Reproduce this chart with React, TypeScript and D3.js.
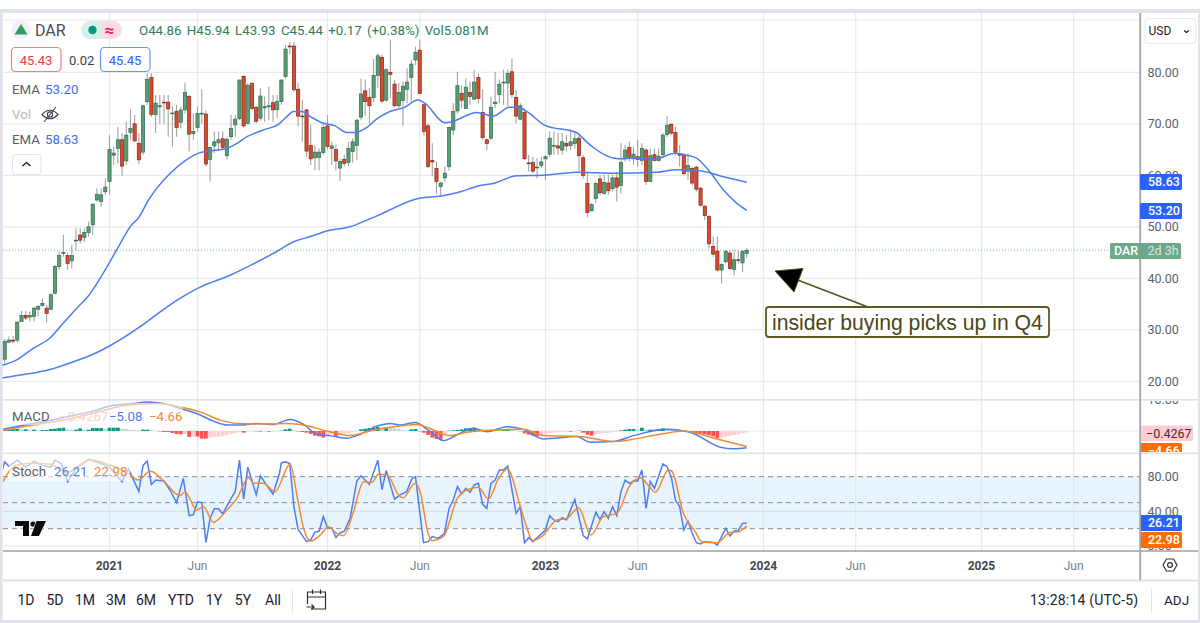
import React from "react";
import * as d3 from "d3";

// weekly candles: open, high, low, close
const ohlc: number[][] = [
[24.3,28.2,23.6,27.7],[27.6,28.7,27.4,28.0],[28.0,28.7,27.4,27.8],[28.0,31.6,27.5,31.5],[31.6,33.7,31.6,32.8],
[32.8,33.7,31.9,32.3],[32.5,33.5,31.6,32.8],[32.6,34.5,31.6,34.2],[34.0,34.8,32.6,34.5],[34.7,36.1,34.5,35.1],
[34.2,34.8,31.4,33.2],[34.0,37.1,33.9,36.8],[37.1,42.6,36.8,42.3],[42.3,45.2,41.6,44.4],[44.9,48.4,44.2,45.0],
[44.4,44.9,41.7,42.9],[43.4,46.5,41.9,44.4],[47.3,49.7,45.4,47.4],[48.4,49.7,46.8,47.4],[47.9,49.7,47.1,48.9],
[48.9,51.0,48.1,50.0],[50.4,54.5,48.4,54.4],[55.2,57.5,54.9,56.3],[54.9,57.5,53.9,56.2],[56.8,59.4,56.2,57.7],
[58.8,67.8,56.2,65.0],[63.9,65.6,62.0,64.3],[65.2,69.4,62.3,66.9],[66.9,68.2,59.9,61.8],[62.8,70.4,62.0,67.8],
[68.3,72.8,66.9,69.1],[70.0,71.7,66.3,66.7],[66.2,68.2,62.2,63.0],[64.5,73.7,64.0,73.5],[74.3,79.8,73.7,78.6],
[79.0,79.8,71.3,71.8],[71.8,75.6,68.2,74.0],[73.3,75.6,70.0,73.5],[74.2,75.6,70.0,74.1],[74.2,75.6,67.5,72.9],
[72.0,73.5,65.5,72.1],[72.4,73.7,67.5,69.3],[70.3,73.3,69.1,72.7],[72.7,78.0,72.0,76.1],[75.3,75.6,64.6,68.0],
[68.1,72.0,66.9,68.5],[69.3,73.3,68.5,72.0],[72.0,76.7,70.0,72.05],[71.9,72.6,61.7,62.2],[63.1,65.6,58.8,65.4],
[65.7,68.5,64.3,66.5],[66.3,68.5,64.9,66.9],[67.1,68.5,65.0,65.4],[63.8,67.5,63.1,67.0],[67.5,71.7,66.9,69.1],
[69.8,71.7,67.5,70.9],[71.0,78.6,70.7,78.5],[79.2,79.5,69.2,69.6],[70.1,77.9,69.8,77.5],[77.9,77.9,72.7,73.0],
[73.2,73.5,70.1,70.5],[71.1,76.9,70.6,75.4],[73.1,75.3,70.4,73.3],[73.3,77.2,70.7,73.5],[74.1,75.6,70.4,72.7],
[72.8,75.6,71.1,74.3],[74.3,78.6,73.7,78.5],[79.2,85.3,78.8,84.5],[85.1,85.9,83.5,85.0],[85.1,85.9,76.2,76.6],
[76.7,78.0,69.5,71.5],[71.5,74.7,66.5,71.4],[72.7,72.9,63.5,64.7],[65.8,69.8,62.0,63.2],[63.4,65.8,61.0,64.5],
[63.5,65.2,61.0,64.5],[64.4,70.0,64.0,69.3],[69.6,71.7,65.0,65.6],[65.2,66.5,62.0,65.7],[65.0,66.0,60.9,62.8],
[61.4,63.2,58.9,62.7],[63.1,64.0,61.7,62.3],[62.5,66.5,61.8,65.2],[64.6,67.2,62.5,66.5],[65.8,71.0,63.0,70.7],
[71.3,78.8,70.7,75.8],[76.4,78.6,71.5,74.3],[75.1,77.0,70.0,73.5],[75.1,82.6,74.3,79.4],[79.4,83.7,77.0,83.2],
[82.9,83.4,74.0,74.4],[74.6,80.8,74.3,80.5],[80.0,86.3,75.0,79.6],[77.7,78.5,73.3,73.5],[73.5,77.9,73.0,76.1],
[74.5,78.2,69.6,77.3],[76.7,80.8,74.0,78.1],[79.0,82.4,74.3,81.6],[82.4,85.0,81.4,83.9],[84.3,86.3,75.9,75.9],
[73.7,73.8,67.8,68.5],[69.6,70.1,61.4,61.7],[62.9,66.2,59.8,62.6],[61.3,62.7,56.4,58.8],[57.8,58.8,56.0,58.5],
[59.5,61.7,58.8,60.4],[61.7,69.5,60.9,69.3],[68.8,74.0,67.8,72.4],[72.5,80.1,72.0,77.4],[75.9,77.5,73.0,74.6],
[73.0,78.8,72.9,77.1],[76.1,78.2,73.7,75.3],[74.8,80.5,74.6,78.1],[79.0,79.8,74.0,74.9],[72.2,76.7,66.9,67.3],
[66.9,67.2,64.9,66.2],[67.2,75.3,66.9,73.2],[73.9,80.1,73.0,74.2],[75.7,78.6,74.0,77.7],[78.0,80.5,73.7,78.1],
[77.9,80.5,73.3,79.8],[80.1,82.7,75.0,75.7],[75.1,76.6,70.1,71.5],[70.9,74.0,70.7,73.5],[72.2,73.0,63.0,63.2],
[62.4,64.0,60.7,62.3],[62.5,63.6,60.4,60.8],[61.5,63.3,59.4,61.6],[61.9,63.6,61.4,62.6],[63.2,64.0,59.0,63.6],
[64.1,68.5,63.5,67.2],[65.8,68.5,64.0,65.8],[65.7,68.2,64.0,65.3],[64.9,68.2,64.0,66.5],[66.2,67.8,64.6,65.7],
[65.8,68.9,64.9,66.5],[66.2,68.5,65.2,67.1],[67.2,67.8,60.7,63.8],[63.4,64.0,59.4,60.0],[58.4,60.7,51.8,52.8],
[53.1,54.6,53.0,54.3],[55.5,58.8,54.6,58.4],[59.3,60.1,56.2,56.6],[56.5,60.1,56.2,58.6],[58.5,60.1,56.2,57.0],
[57.4,60.1,56.8,59.5],[59.5,60.7,54.9,57.7],[58.0,66.2,56.4,62.5],[63.2,65.9,62.7,64.9],[65.4,66.5,62.7,63.5],
[63.2,65.6,62.0,64.1],[63.6,66.9,61.7,63.1],[62.9,66.2,62.0,65.2],[64.9,65.2,58.1,58.8],[58.8,65.2,58.7,63.8],
[64.0,65.2,62.7,62.9],[62.9,65.2,62.7,63.7],[64.0,68.2,63.6,67.8],[67.9,71.5,67.5,69.7],[69.9,70.1,67.8,68.2],
[68.3,69.5,63.9,64.5],[64.2,65.9,61.7,63.9],[64.0,64.3,60.0,60.3],[60.8,64.3,59.1,61.9],[61.3,61.7,58.1,58.5],
[61.6,61.8,56.8,57.3],[57.5,57.8,53.9,54.2],[54.0,54.2,51.3,52.2],[52.0,52.3,45.8,46.7],[46.2,48.1,44.2,44.7],
[45.3,48.1,41.3,41.6],[41.6,42.9,39.0,42.7],[43.2,45.5,42.9,45.2],[44.9,45.5,41.6,41.9],[41.7,45.5,40.6,43.6],
[43.6,45.5,42.9,43.5],[43.0,45.5,41.2,45.2],[44.86,45.94,43.93,45.44],
];

// [candle index, price]
const emaFast: number[][] = [[-1.1,23],[2.5,24],[6.8,26.4],[10.8,28.4],[14,31.3],[17.2,34.2],[20,36.6],[23.5,41],[26.7,45.5],[30.3,50.4],[31.9,51.7],[34.3,55.2],[39.5,60.4],[43,62.8],[46.6,64.4],[49.8,64.8],[53,65.2],[55.4,66.2],[57.8,67.5],[61.7,68.8],[65.3,69.9],[67.3,71.4],[68.9,72.4],[70.9,72.4],[72.9,71.4],[75.7,70.2],[78.8,69.6],[81.6,68.3],[83.6,68.3],[86.4,69.3],[88.7,70.9],[91.9,72.4],[95.1,73.1],[98.6,74.6],[100.2,74],[105,70.2],[106.6,70.4],[112.6,72.2],[116.5,71.5],[120.5,73.2],[122.5,73.2],[124.5,72.4],[128.9,69.7],[136.4,68.3],[138.8,66.5],[140.4,65.4],[146.4,63.2],[151.5,63.4],[155.5,63.1],[157.1,63.6],[159.9,64.3],[162.7,63.9],[165.1,63.3],[168.2,60.7],[171.4,57.2],[174.6,54.6],[177,53.2]];
const emaSlow: number[][] = [[-1.1,20.6],[5.3,21.4],[10.8,22.3],[16.4,23.8],[20.4,25],[25.1,26.9],[32.3,30.6],[37.1,33.5],[41.8,36.1],[46.6,38.3],[53.8,40.6],[58.6,42.5],[64.9,45.2],[68.9,47.1],[72.9,48.1],[76.8,49.2],[82.4,50],[86.4,51.3],[89.6,52.4],[91.9,53.3],[98.6,55.5],[104.2,56],[107.8,56.6],[113.4,58],[116.5,58.4],[122.1,59.9],[128.5,60],[136.4,60.6],[146,60.4],[155.5,60.6],[160.3,61.1],[165.9,60.9],[171.4,59.7],[177,58.63]];

const macdHist: number[] = [
.5,.5,.5,.6,.5,.5,.4,.4,.3,.3,
.3,.6,.7,.9,1,.5,.4,.4,.8,.4,
.4,.9,.9,.9,.6,1,1,1,.7,.6,
.4,.3,.2,.4,.4,.2,.1,-.1,-.3,-.3,
-.6,-.9,-1,-.9,-1.8,-1.7,-1.7,-2.3,-2.3,-2,
-1.8,-1.7,-1.5,-1.2,-.9,-.6,-.3,-.5,-.2,-.1,
-.1,-.2,-.1,-.2,-.15,-.1,.1,.5,.7,.2,
-.1,-.3,-.5,-.9,-1.4,-1.6,-2,-1.2,-1,-1.5,
-1,-.8,-.6,-.3,-.1,.5,.7,.9,.9,1.2,
1,1.1,.9,.8,.6,.3,.2,.5,.6,-.1,
-.5,-1.2,-2,-2.4,-2.7,-1.3,.1,.2,.3,.5,
.8,.9,1,.7,.4,.2,.1,.1,.1,.4,
.5,.2,.1,-.1,-.7,-1.1,-1.4,-1.6,-1.2,-1,
-.7,-.5,-.4,-.3,-.2,-.2,-.1,.1,-.5,-1.1,
-1.4,-1,-.8,-.6,-.5,-.3,-.2,.2,.4,.6,
.6,.4,1,.4,.4,.4,.6,.8,.5,.3,
.2,.1,.05,-.1,-.3,-.6,-.8,-1,-1.3,-1.6,
-2.1,-2,-1.7,-1.5,-1.2,-1,-.7,-.43];

const macdLine: number[][] = [[-1.1,.3],[3.7,1.6],[9.2,2.8],[14.8,4.3],[21.2,6.1],[25.9,7.8],[30.7,8.3],[33.9,8.8],[37.9,8.3],[41.9,6.8],[45.8,5.3],[49.8,3],[53,1.8],[56.2,1.8],[60.1,2.3],[64.1,2],[68.1,3.5],[71.3,2],[74.5,-1],[77.6,-1.4],[81.6,-2.2],[84.4,-1.2],[88.8,1.5],[92,2.3],[94.3,1.8],[97.9,2.6],[101.5,-.2],[104.6,-2.9],[107.8,-1.2],[111.8,.8],[115,-.2],[119.8,1.3],[123.7,.5],[128.5,-2.4],[136.5,-1.7],[139.6,-3.4],[145.2,-3.2],[150,-1.4],[158,.5],[163.5,-.4],[170.7,-4.9],[173.9,-5.4],[177,-5.08]];
const macdSignal: number[][] = [[-1.1,0],[6.8,1.8],[14.8,3.5],[22.8,6],[29.1,7.8],[36.3,8.3],[41.9,7.3],[46.6,5.8],[51.4,3.3],[55.4,2.3],[62.5,2.1],[67.3,2.3],[72.1,1.6],[76.8,0],[82.4,-1.4],[88,.3],[94.3,1.5],[98.3,2],[102.3,.3],[106.2,-1.4],[110.2,-.4],[116.6,.3],[123.7,.5],[128.5,-1.4],[137.3,-1.7],[145.2,-3.2],[156.3,-1],[161.9,0],[169.9,-2.4],[177,-4.66]];

const stochK: number[][] = [[-.8,84],[0,97],[1,92],[3,99],[5,91],[7,98],[9,93],[11,91],[12,99],[13.5,95],[15,74],[17,89],[20,100],[23,95],[25,91],[28,74],[29.5,89],[32,63],[33,93],[34,98],[35,71],[36,76],[38,75],[39.5,64],[41,50],[42.6,78],[44,35],[45,36],[46,51],[47,50],[48,4],[49,32],[50,43],[51,43],[52,37],[54,55],[55,63],[56,99],[57,54],[58,91],[60,59],[61,81],[62.5,70],[64,60],[65.5,83],[66,96],[67,97],[68,95],[69,45],[70,19],[72,5],[73,7],[74,16],[75,17],[76,34],[77,21],[78,21],[79,10],[80,15],[81,17],[82.4,32],[84,75],[85,81],[87,71],[89,99],[90,65],[91,87],[93,54],[94.3,59],[95.9,62.7],[97.1,77.3],[98,80],[99.9,3.8],[101,5],[102,10.8],[103.4,8.8],[104.9,14.6],[106,43.4],[107,53],[108,68.4],[109,60],[110,66.5],[111,61.9],[112,70.4],[113,72.3],[114,48],[115,43.4],[116,72.3],[117,76],[118,87.7],[119,87.7],[120,92.3],[122,37.7],[123,45.4],[124,3.8],[125,9.6],[126,5],[129,18.4],[130,35],[131,30],[132,28],[133,32.7],[134,30],[136,53.8],[138,11.9],[139,8],[141,38.8],[142,30.7],[143,39.6],[144,31.9],[145,45.4],[146,35],[147,62.7],[148,76],[149,72.3],[150,75],[151,75],[152,87.7],[153,43.4],[154,74.2],[155,66.5],[157,94.6],[158,91.5],[159,80],[160,53],[161,45.4],[162,18.4],[163,28.8],[164,14.6],[165,3.8],[166,2.3],[167,5],[169,4.2],[170,1.1],[172,20.4],[173,11.5],[174,17.3],[175,18],[176,26.1],[177,26.21]];
const stochD: number[][] = [[-.5,73.4],[.9,85],[2.9,93.4],[6.8,95.4],[10.8,94.2],[14.8,85],[20.4,99.2],[25.1,93.4],[29.1,85],[31.9,76],[34.7,86.5],[37.9,75],[41.8,58],[43,62.7],[45.8,41.5],[47.4,45.4],[49.8,27.3],[53,41.5],[55.4,55],[58.2,78.8],[59.3,72.3],[61.7,72.3],[64.5,62.7],[68.1,94.6],[69.7,58.8],[71.3,20.4],[72.9,5.7],[75.3,12.7],[77.2,22.3],[79.2,14.6],[80.8,11.9],[83.2,39.6],[85.6,74.2],[87.6,73.4],[89.2,82.7],[91.2,81.9],[94.3,56.9],[95.1,55.7],[97.9,72.3],[99.1,62.7],[101,14.6],[101.9,6.1],[104.6,10.7],[108,55],[110.2,64.6],[113,67.7],[115.4,54.2],[117.8,78],[119.9,88.8],[122.9,47.3],[124.1,28],[126,6.1],[128.1,10.7],[131.7,30],[134.1,31.9],[136.9,44.2],[139.8,12.7],[142.8,33.8],[146,37.7],[149.2,70.4],[151.6,78.8],[153.6,69.6],[155.2,61.9],[158.3,87.7],[159.1,86.5],[161.9,37.7],[164.7,16.5],[166.3,5],[169.9,3.8],[173.1,15.8],[175,16.5],[177,22.98]];

const priceTicks = [80, 70, 60, 50, 40, 30, 20];
const timeTicks: [number, string, boolean][] = [[25,"2021",true],[46,"Jun",false],[77,"2022",true],[99,"Jun",false],[129,"2023",true],[151,"Jun",false],[181,"2024",true],[203,"Jun",false],[233,"2025",true],[255,"Jun",false]];
const ranges: [string, number][] = [["1D",26],["5D",55],["1M",85],["3M",116],["6M",146],["YTD",181],["1Y",214],["5Y",243],["All",273]];

const FONT = "Roboto, 'Noto Sans', sans-serif";
const GRID = "#e9eaee";
const SEP = "#dfe2ea";
const CHART_L = 3, CHART_R = 1140;

const x = d3.scaleLinear().domain([0, 177]).range([4.7, 746.7]);
const yP = d3.scaleLinear().domain([20, 80]).range([381.3, 72.3]);
const yM = d3.scaleLinear().domain([-10, 10]).range([464, 398]);
const yS = d3.scaleLinear().domain([0, 100]).range([546, 459.3]);

const lineOf = (y: d3.ScaleLinear<number, number>, curve: d3.CurveFactory = d3.curveLinear) =>
  d3.line<number[]>().x((d) => x(d[0])).y((d) => y(d[1])).curve(curve);

const UP = "#5c9c77", UPB = "#2f6b4b", DN = "#dc4a2d", DNB = "#7d2b1b", WICK = "#a3a3a3";
const BLUE = "#4f7cf0", ORANGE = "#f28a30", LB = "#2962ff";

function Tag({ y, w, h, fill, text, color, x0 = CHART_R }: any) {
  return (
    <g>
      <rect x={x0} y={y - h / 2} width={w} height={h} rx={1.5} fill={fill} />
      <text x={x0 + 8} y={y + 4.4} fontSize={12.5} fill={color} fontWeight={500}>{text}</text>
    </g>
  );
}

export default function App() {
  const macdColor = (v: number, i: number) => {
    const p = i > 0 ? macdHist[i - 1] : 0;
    if (v >= 0) return v >= p ? "#089981" : "#b2dfd8";
    return v <= p ? "#ff5252" : "#ffcdd2";
  };
  return (
    <svg width={1200} height={623} viewBox="0 0 1200 623" style={{ position: "fixed", left: 0, top: 0, background: "#fff", fontFamily: FONT }}>
      <defs>
        <clipPath id="macdClip"><rect x={CHART_L} y={401} width={1197} height={51} /></clipPath>
        <clipPath id="stochClip"><rect x={CHART_L} y={455} width={CHART_R - CHART_L} height={95} /></clipPath>
        <clipPath id="macdLabel"><rect x={1141} y={401} width={58} height={51} /></clipPath>
        <clipPath id="stochLabel"><rect x={1141} y={455} width={58} height={95} /></clipPath>
      </defs>
      {/* outer frame */}
      <rect x={0} y={9} width={1200} height={4} fill={SEP} />
      <rect x={0} y={9} width={2.5} height={614} fill={SEP} />
      <rect x={1198} y={9} width={2} height={614} fill={SEP} />
      <rect x={0} y={620} width={1200} height={3} fill={SEP} />

      {/* vertical grid */}
      {timeTicks.map(([i]) => (
        <line key={i} x1={x(i)} x2={x(i)} y1={13} y2={551} stroke={GRID} strokeWidth={1.2} />
      ))}
      {/* horizontal grid */}
      {priceTicks.map((p) => (
        <line key={p} x1={CHART_L} x2={CHART_R} y1={yP(p)} y2={yP(p)} stroke={GRID} strokeWidth={1.2} />
      ))}
      <line x1={CHART_L} x2={CHART_R} y1={20} y2={20} stroke={GRID} strokeWidth={1} />

      {/* last price line */}
      <line x1={CHART_L} x2={1110} y1={yP(45.44)} y2={yP(45.44)} stroke="#7fb598" strokeWidth={1} strokeDasharray="1 2" />

      {/* candles */}
      {ohlc.map(([o, h, l, c], i) => (
        <line key={"w" + i} x1={x(i)} x2={x(i)} y1={yP(h)} y2={yP(l)} stroke={WICK} strokeWidth={1.1} />
      ))}
      {ohlc.map(([o, h, l, c], i) => {
        const up = c >= o;
        const top = yP(Math.max(o, c));
        const bot = yP(Math.min(o, c));
        return (
          <rect key={"b" + i} x={x(i) - 1.6} y={top} width={3.2} height={Math.max(bot - top, 0.8)}
            fill={up ? UP : DN} stroke={up ? UPB : DNB} strokeWidth={0.7} />
        );
      })}

      {/* EMAs */}
      <path d={lineOf(yP, d3.curveMonotoneX)(emaFast) || ""} fill="none" stroke={BLUE} strokeWidth={1.5} />
      <path d={lineOf(yP, d3.curveMonotoneX)(emaSlow) || ""} fill="none" stroke={BLUE} strokeWidth={1.5} />
      <rect x={0} y={13} width={2.5} height={400} fill={SEP} />

      {/* MACD pane */}
      <line x1={CHART_L} x2={CHART_R} y1={yM(0)} y2={yM(0)} stroke={GRID} strokeWidth={1.2} />
      <g clipPath="url(#macdClip)">
        {macdHist.map((v, i) => (
          <rect key={i} x={x(i) - 1.9} y={v >= 0 ? yM(v) : yM(0)} width={3.8} height={Math.abs(yM(v) - yM(0))} fill={macdColor(v, i)} />
        ))}
        <path d={lineOf(yM, d3.curveMonotoneX)(macdLine) || ""} fill="none" stroke={BLUE} strokeWidth={1.5} />
        <path d={lineOf(yM, d3.curveMonotoneX)(macdSignal) || ""} fill="none" stroke={ORANGE} strokeWidth={1.5} />
      </g>
      <rect x={9} y={403} width={174} height={22} fill="#fff" opacity={0.55} />

      {/* Stoch pane */}
      <rect x={CHART_L} y={yS(80)} width={CHART_R - CHART_L} height={yS(20) - yS(80)} fill="#e3f2fd" opacity={0.85} />
      {timeTicks.map(([i]) => (
        <line key={i} x1={x(i)} x2={x(i)} y1={yS(80)} y2={yS(20)} stroke="#dfe4ea" strokeWidth={1} />
      ))}
      <line x1={CHART_L} x2={CHART_R} y1={yS(40)} y2={yS(40)} stroke="#d9dee5" strokeWidth={1.2} />
      <line x1={CHART_L} x2={CHART_R} y1={yS(0)} y2={yS(0)} stroke={GRID} strokeWidth={1.2} />
      {[80, 50, 20].map((v) => (
        <line key={v} x1={CHART_L} x2={CHART_R} y1={yS(v)} y2={yS(v)} stroke="#8b8f99" strokeWidth={1} strokeDasharray="5 4" />
      ))}
      <g clipPath="url(#stochClip)">
        <path d={lineOf(yS)(stochK) || ""} fill="none" stroke={BLUE} strokeWidth={1.5} />
        <path d={lineOf(yS, d3.curveMonotoneX)(stochD) || ""} fill="none" stroke={ORANGE} strokeWidth={1.5} />
      </g>
      <rect x={9} y={457} width={121} height={24} fill="#fff" opacity={0.6} />

      {/* TV logo */}
      <g fill="#0b0b0f" stroke="#fff" strokeWidth={1.2} paintOrder="stroke">
        <path d="M15 521 H29 V536 H23 V526 H15 Z" />
        <circle cx={33} cy={524} r={2.6} />
        <path d="M36.5 521 H46 L39 536 H31 Z" />
      </g>

      {/* pane separators */}
      <rect x={CHART_L} y={399} width={1195} height={1.6} fill={SEP} />
      <rect x={CHART_L} y={452.5} width={1195} height={1.6} fill={SEP} />
      <line x1={CHART_L} x2={1198} y1={551} y2={551} stroke="#70737b" strokeWidth={1} />
      <rect x={CHART_L} y={579.5} width={1195} height={2} fill={SEP} />
      <rect x={CHART_R - 0.7} y={13} width={1.8} height={567} fill="#a2a4a9" />

      {/* price axis */}
      {priceTicks.map((p) => (
        <text key={p} x={1147.5} y={yP(p) + 4.4} fontSize={12.5} fill="#5d606b">{p.toFixed(2)}</text>
      ))}
      <Tag y={182} w={42} h={16} fill={LB} text="58.63" color="#fff" />
      <Tag y={211} w={42} h={16} fill={LB} text="53.20" color="#fff" />
      <rect x={1110} y={243} width={71} height={16} rx={1.5} fill="#6ea88a" />
      <text x={1114} y={255.4} fontSize={12.5} fill="#fff" fontWeight={500}>DAR</text>
      <text x={1147.5} y={255.4} fontSize={12.5} fill="#d6eadf">2d 3h</text>

      <g clipPath="url(#macdLabel)">
        <text x={1147.5} y={yM(10) + 6} fontSize={12.5} fill="#5d606b">10.00</text>
        <rect x={1140} y={425.5} width={53} height={15.5} rx={1.5} fill="#ffcdd2" />
        <text x={1146} y={437.6} fontSize={12.5} fill="#4a2a2f">−0.4267</text>
        <Tag y={451} w={42} h={16} fill="#ff6d00" text="−4.66" color="#fff" />
      </g>
      <g clipPath="url(#stochLabel)">
        <text x={1147.5} y={yS(80) + 4.4} fontSize={12.5} fill="#5d606b">80.00</text>
        <text x={1147.5} y={yS(40) + 4.4} fontSize={12.5} fill="#5d606b">40.00</text>
        <text x={1147.5} y={yS(0) + 4.4} fontSize={12.5} fill="#5d606b">0.00</text>
        <Tag y={523} w={42} h={16} fill={LB} text="26.21" color="#fff" />
        <Tag y={540} w={42} h={16} fill="#ff6d00" text="22.98" color="#fff" />
      </g>

      {/* USD */}
      <rect x={1145} y={18.5} width={51} height={25} rx={4} fill="#fff" stroke="#e8eaf0" />
      <text x={1148.5} y={34.5} fontSize={12} fill="#1e222d">USD</text>
      <path d="M1184 30.5 l2.5 2 l2.5 -2" fill="none" stroke="#1e222d" strokeWidth={1.2} />

      {/* time axis */}
      {timeTicks.map(([i, s, b]) => (
        <text key={i} x={x(i)} y={570} textAnchor="middle" fontSize={12} fill={b ? "#43464f" : "#7b7e88"} fontWeight={b ? 700 : 400}>{s}</text>
      ))}
      <path d="M1163 565 l3.5 -6 h7 l3.5 6 l-3.5 6 h-7 Z" fill="none" stroke="#30333b" strokeWidth={1.2} />
      <circle cx={1170} cy={565} r={2.4} fill="none" stroke="#30333b" strokeWidth={1.2} />

      {/* header legend */}
      <circle cx={21} cy={30} r={9.5} fill="#eef1f7" />
      <path d="M21 24 l6.5 10.5 h-13 Z" fill="#2f9d5d" />
      <text x={35} y={36} fontSize={16} fill="#4a4d57">DAR</text>
      <path d="M90 21 H102 V39 H90 A9 9 0 0 1 90 21 Z" fill="#d6efe9" />
      <path d="M102 21 H113 A9 9 0 0 1 113 39 H102 Z" fill="#fbdbe4" />
      <circle cx={92.5} cy={30} r={4.2} fill="#089981" />
      <text x={104.5} y={35.5} fontSize={17} fill="#e91e63" fontWeight={700}>≈</text>
      <text x={139} y={35} fontSize={13.3} fill="#2f7d5b" wordSpacing={2} xmlSpace="preserve">O44.86 H45.94 L43.93 C45.44 +0.17 (+0.38%) Vol5.081M</text>

      <rect x={11.5} y={47.5} width={49.5} height={24} rx={4} fill="#fff" stroke="#f77c80" strokeWidth={1.2} />
      <text x={36} y={64.5} textAnchor="middle" fontSize={13} fill="#f23645">45.43</text>
      <text x={69} y={64.5} fontSize={13} fill="#3e414a">0.02</text>
      <rect x={100.5} y={47.5} width={49.5} height={24} rx={4} fill="#fff" stroke="#6b93f5" strokeWidth={1.2} />
      <text x={125} y={64.5} textAnchor="middle" fontSize={13} fill="#2962ff">45.45</text>

      <text x={12} y={94} fontSize={13.3} fill="#5a5d66">EMA</text>
      <text x={45} y={94} fontSize={13.3} fill="#3d6ff2">53.20</text>
      <text x={12} y={119} fontSize={13.3} fill="#b7bac3">Vol</text>
      <g fill="none" stroke="#3b3e47" strokeWidth={1.1}>
        <path d="M42 114.5 Q50 106 58 114.5 Q50 123 42 114.5 Z" />
        <circle cx={50} cy={114.5} r={2.6} />
        <path d="M44 122 L56 107" />
      </g>
      <text x={12} y={144} fontSize={13.3} fill="#5a5d66">EMA</text>
      <text x={45} y={144} fontSize={13.3} fill="#3d6ff2">58.63</text>
      <rect x={12.5} y={154.5} width={28.5} height={20} rx={3.5} fill="#fff" stroke="#e0e3eb" />
      <path d="M22.5 166 l4 -3.5 l4 3.5" fill="none" stroke="#131722" strokeWidth={1.3} />

      <text x={12} y={421} fontSize={13.3} fill="#5a5d66">MACD</text>
      <text x={60} y={421} fontSize={13.3} fill="#ffcdd2">−0.4267</text>
      <text x={109} y={421} fontSize={13.3} fill="#4f7cf0">−5.08</text>
      <text x={149} y={421} fontSize={13.3} fill="#f28a30">−4.66</text>

      <text x={12} y={476} fontSize={13.3} fill="#5a5d66">Stoch</text>
      <text x={54} y={476} fontSize={13.3} fill="#4f7cf0">26.21</text>
      <text x={94} y={476} fontSize={13.3} fill="#f28a30">22.98</text>

      {/* annotation */}
      <line x1={868} y1={307} x2={795} y2={279} stroke="#55521b" strokeWidth={1.6} />
      <path d="M775 271 L803 268.5 L794 292 Z" fill="#000" stroke="#55521b" strokeWidth={1} />
      <rect x={766} y={307} width={283} height={30} rx={3} fill="#fff" stroke="#5c5a1f" strokeWidth={1.8} />
      <text x={772} y={329.5} fontSize={21.2} fill="#4a4818" fontFamily="'Liberation Sans', Arial, sans-serif">insider buying picks up in Q4</text>

      {/* bottom toolbar */}
      {ranges.map(([s, cx]) => (
        <text key={s} x={cx} y={605} textAnchor="middle" fontSize={14} fill="#1e222d">{s}</text>
      ))}
      <line x1={292.5} x2={292.5} y1={589} y2={612} stroke="#e0e3eb" />
      <g fill="none" stroke="#2b2e37" strokeWidth={1.2}>
        <path d="M311 609 H325.5 V592 H307.5 V604" />
        <path d="M307.5 597 H325.5 M312.5 589.5 V594 M320.5 589.5 V594" />
        <path d="M306.5 607 H314 M311.5 604.5 L314 607 L311.5 609.5" />
      </g>
      <text x={1030} y={605} fontSize={14} fill="#1e222d" letterSpacing={0.2}>13:28:14 (UTC-5)</text>
      <line x1={1151.5} x2={1151.5} y1={589} y2={612} stroke="#e0e3eb" />
      <text x={1164} y={605} fontSize={13.5} fill="#1e222d">ADJ</text>
    </svg>
  );
}
